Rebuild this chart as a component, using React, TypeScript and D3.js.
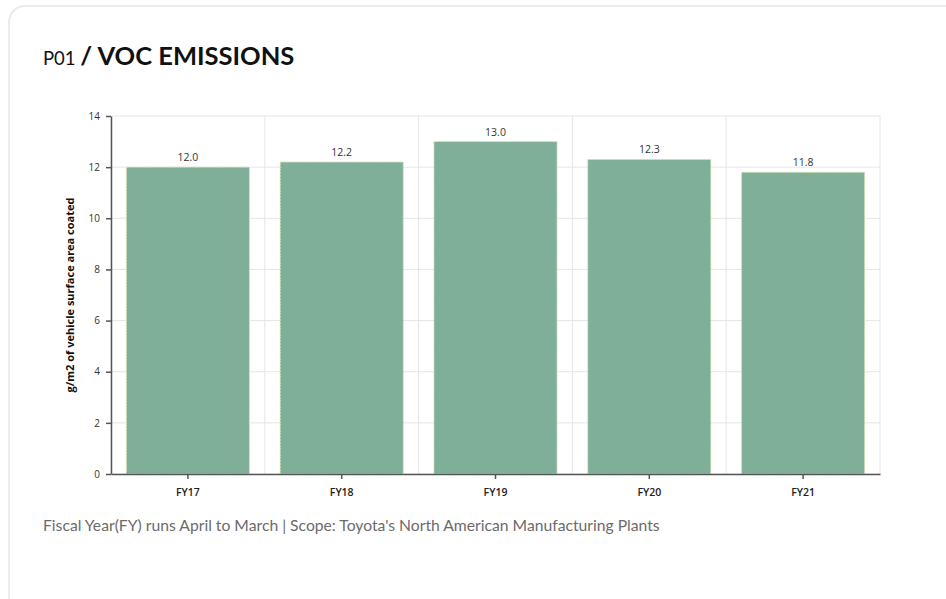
import { useRef, useEffect } from "react";
import * as d3 from "d3";

const years = ["FY17", "FY18", "FY19", "FY20", "FY21"];
const emissions = [12.0, 12.2, 13.0, 12.3, 11.8];
const yTicks = [0, 2, 4, 6, 8, 10, 12, 14];

const W = 946;
const H = 599;

export default function App() {
  const svgRef = useRef<SVGSVGElement>(null);

  useEffect(() => {
    if (!svgRef.current) return;
    const svg = d3.select(svgRef.current);
    svg.selectAll("*").remove();

    // card
    svg
      .append("rect")
      .attr("x", 9)
      .attr("y", 6)
      .attr("width", 980)
      .attr("height", 640)
      .attr("rx", 16)
      .attr("fill", "#fff")
      .attr("stroke", "#ebebeb")
      .attr("stroke-width", 2);

    const title = svg
      .append("text")
      .attr("x", 43)
      .attr("y", 65)
      .attr("font-family", "Lato, 'Open Sans', sans-serif")
      .attr("fill", "#111");
    title.append("tspan").attr("font-size", 18.5).text("P01 ");
    title
      .append("tspan")
      .attr("font-size", 25.5)
      .attr("font-weight", 700)
      .text("/ VOC EMISSIONS");

    const margin = { top: 116, right: 66, bottom: 125, left: 111 };
    const width = W - margin.left - margin.right;
    const height = H - margin.top - margin.bottom;

    const g = svg
      .append("g")
      .attr("transform", `translate(${margin.left},${margin.top})`);

    const x = d3.scaleBand().domain(years).range([0, width]).padding(0);
    const y = d3.scaleLinear().domain([0, 14]).range([height, 0]);

    // grid
    g.selectAll(".hgrid")
      .data(yTicks)
      .join("line")
      .attr("x1", 0)
      .attr("x2", width)
      .attr("y1", (d) => y(d))
      .attr("y2", (d) => y(d))
      .attr("stroke", "#e6e6e6");
    const bounds = years.map((d) => x(d)!).concat([width]);
    g.selectAll(".vgrid")
      .data(bounds)
      .join("line")
      .attr("x1", (d) => d)
      .attr("x2", (d) => d)
      .attr("y1", 0)
      .attr("y2", height)
      .attr("stroke", "#e6e6e6");

    // bars
    const bw = x.bandwidth() * 0.8;
    g.selectAll(".bar")
      .data(years)
      .join("rect")
      .attr("x", (d) => x(d)! + (x.bandwidth() - bw) / 2)
      .attr("y", (_, i) => y(emissions[i]))
      .attr("width", bw)
      .attr("height", (_, i) => height - y(emissions[i]))
      .attr("fill", "#7fae99")
      .attr("stroke", "#d6e3b4")
      .attr("stroke-width", 1)
      .attr("stroke-dasharray", "2,1");

    g.selectAll(".val")
      .data(years)
      .join("text")
      .attr("x", (d) => x(d)! + x.bandwidth() / 2)
      .attr("y", (_, i) => y(emissions[i]) - 6)
      .attr("text-anchor", "middle")
      .attr("font-family", "'Open Sans', sans-serif")
      .attr("font-size", 10.5)
      .attr("fill", "#333")
      .text((_, i) => emissions[i].toFixed(1));

    // axes
    const yAxis = g
      .append("g")
      .call(d3.axisLeft(y).tickValues(yTicks).tickSize(5).tickSizeOuter(0).tickPadding(6));
    yAxis
      .selectAll("text")
      .attr("font-family", "'Open Sans', sans-serif")
      .attr("font-size", 10)
      .attr("fill", "#333");

    const xAxis = g
      .append("g")
      .attr("transform", `translate(0,${height})`)
      .call(d3.axisBottom(x).tickSize(5).tickSizeOuter(0).tickPadding(10));
    xAxis
      .selectAll("text")
      .attr("font-family", "'Open Sans', sans-serif")
      .attr("font-size", 10.5)
      .attr("font-weight", 600)
      .attr("fill", "#222");

    g.selectAll(".domain, .tick line")
      .attr("stroke", "#555")
      .attr("stroke-width", 1.5);

    svg
      .append("text")
      .attr("transform", `translate(74,${margin.top + height / 2}) rotate(-90)`)
      .attr("text-anchor", "middle")
      .attr("font-family", "'Open Sans', sans-serif")
      .attr("font-size", 11)
      .attr("font-weight", 700)
      .attr("fill", "#111")
      .text("g/m2 of vehicle surface area coated");

    svg
      .append("text")
      .attr("x", 43)
      .attr("y", 531)
      .attr("font-family", "Lato, 'Open Sans', sans-serif")
      .attr("font-size", 15.7)
      .attr("fill", "#6b6b6b")
      .text(
        "Fiscal Year(FY) runs April to March | Scope: Toyota's North American Manufacturing Plants"
      );
  }, []);

  return (
    <svg
      ref={svgRef}
      width={W}
      height={H}
      style={{ position: "absolute", left: 0, top: 0 }}
    />
  );
}
